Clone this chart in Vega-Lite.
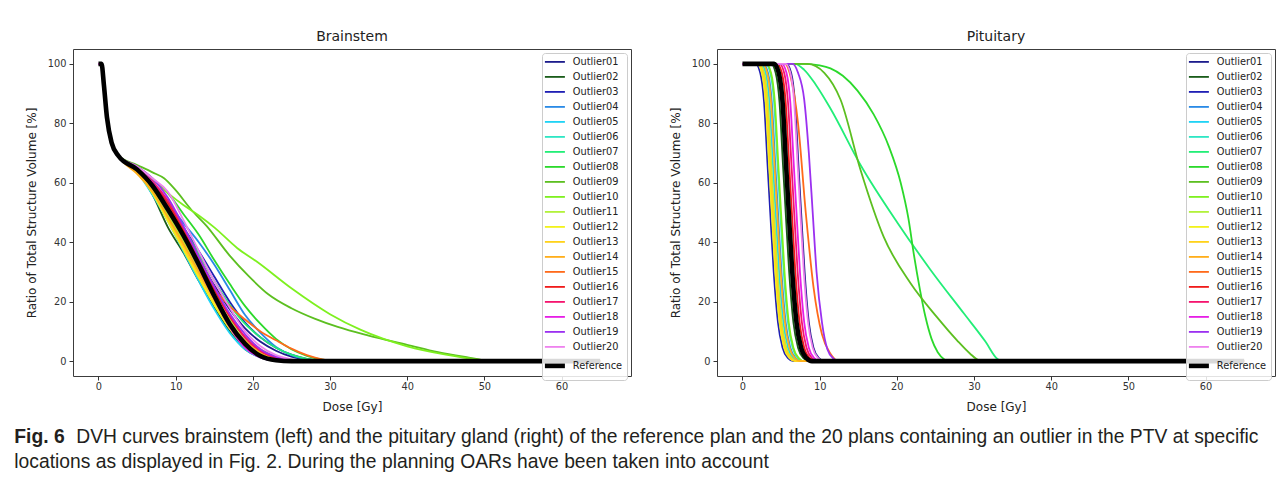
{
"$schema": "https://vega.github.io/schema/vega-lite/v6.json",
"background": "white",
"padding": {"left": 14, "top": 29, "right": 0, "bottom": 0},
"config": {
 "font": "DejaVu Sans",
 "view": {"stroke": "#3c3c3c", "strokeWidth": 1, "fill": "white"},
 "axis": {"domain": false, "grid": false, "tickColor": "#333333", "tickSize": 4, "labelFontSize": 9.8, "labelColor": "#333333", "titleFontSize": 12, "titleFontWeight": "normal", "titleColor": "#222222", "labelFont": "DejaVu Sans", "titleFont": "DejaVu Sans"},
 "axisX": {"labelPadding": 1, "titlePadding": 11},
 "axisY": {"labelPadding": 3, "titlePadding": 8.5},
 "title": {"fontSize": 14, "fontWeight": "normal", "color": "#222222", "offset": 5, "font": "DejaVu Sans", "frame": "group"},
 "legend": {"orient": "top-right", "offset": 4, "padding": 4, "fillColor": "rgba(255,255,255,0.85)", "strokeColor": "#cccccc", "cornerRadius": 3, "labelFont": "DejaVu Sans", "labelFontSize": 9.8, "labelColor": "#222222", "rowPadding": 4, "symbolOffset": 4, "labelOffset": 13}
},
"datasets": {
"bs": [
{"plan":"Outlier01","dose":0,"vol":100},{"plan":"Outlier01","dose":0.4,"vol":100},{"plan":"Outlier01","dose":0.7,"vol":93},{"plan":"Outlier01","dose":1.1,"vol":82},{"plan":"Outlier01","dose":1.7,"vol":73.5},{"plan":"Outlier01","dose":2.6,"vol":69},{"plan":"Outlier01","dose":5,"vol":65},{"plan":"Outlier01","dose":7,"vol":59.5},{"plan":"Outlier01","dose":9,"vol":52},{"plan":"Outlier01","dose":11,"vol":43.5},{"plan":"Outlier01","dose":13,"vol":34.5},{"plan":"Outlier01","dose":15,"vol":25.5},{"plan":"Outlier01","dose":17,"vol":17.5},{"plan":"Outlier01","dose":19,"vol":11},{"plan":"Outlier01","dose":21,"vol":6.5},{"plan":"Outlier01","dose":23,"vol":3.5},{"plan":"Outlier01","dose":25,"vol":1.5},{"plan":"Outlier01","dose":27,"vol":0.5},{"plan":"Outlier01","dose":29,"vol":0},{"plan":"Outlier01","dose":65,"vol":0},
{"plan":"Outlier02","dose":0,"vol":100},{"plan":"Outlier02","dose":0.4,"vol":100},{"plan":"Outlier02","dose":0.7,"vol":93},{"plan":"Outlier02","dose":1.1,"vol":82},{"plan":"Outlier02","dose":1.7,"vol":73.5},{"plan":"Outlier02","dose":2.6,"vol":69},{"plan":"Outlier02","dose":5,"vol":64},{"plan":"Outlier02","dose":7,"vol":56},{"plan":"Outlier02","dose":9,"vol":45},{"plan":"Outlier02","dose":11,"vol":36.5},{"plan":"Outlier02","dose":13,"vol":27},{"plan":"Outlier02","dose":15,"vol":18},{"plan":"Outlier02","dose":17,"vol":10},{"plan":"Outlier02","dose":19,"vol":4},{"plan":"Outlier02","dose":21,"vol":1.3},{"plan":"Outlier02","dose":23,"vol":0.2},{"plan":"Outlier02","dose":25,"vol":0},{"plan":"Outlier02","dose":65,"vol":0},
{"plan":"Outlier03","dose":0,"vol":100},{"plan":"Outlier03","dose":0.4,"vol":100},{"plan":"Outlier03","dose":0.7,"vol":93},{"plan":"Outlier03","dose":1.1,"vol":82},{"plan":"Outlier03","dose":1.7,"vol":73.5},{"plan":"Outlier03","dose":2.6,"vol":69},{"plan":"Outlier03","dose":5,"vol":65},{"plan":"Outlier03","dose":7,"vol":60},{"plan":"Outlier03","dose":9,"vol":53},{"plan":"Outlier03","dose":11,"vol":45},{"plan":"Outlier03","dose":13,"vol":37},{"plan":"Outlier03","dose":15,"vol":28.5},{"plan":"Outlier03","dose":17,"vol":20},{"plan":"Outlier03","dose":19,"vol":13},{"plan":"Outlier03","dose":21,"vol":8},{"plan":"Outlier03","dose":23,"vol":4.5},{"plan":"Outlier03","dose":25,"vol":2.2},{"plan":"Outlier03","dose":27,"vol":0.8},{"plan":"Outlier03","dose":29,"vol":0},{"plan":"Outlier03","dose":65,"vol":0},
{"plan":"Outlier04","dose":0,"vol":100},{"plan":"Outlier04","dose":0.4,"vol":100},{"plan":"Outlier04","dose":0.7,"vol":93},{"plan":"Outlier04","dose":1.1,"vol":82},{"plan":"Outlier04","dose":1.7,"vol":73.5},{"plan":"Outlier04","dose":2.6,"vol":69},{"plan":"Outlier04","dose":5,"vol":65},{"plan":"Outlier04","dose":7,"vol":60},{"plan":"Outlier04","dose":9,"vol":53.5},{"plan":"Outlier04","dose":11,"vol":46.5},{"plan":"Outlier04","dose":13,"vol":40},{"plan":"Outlier04","dose":15,"vol":32.5},{"plan":"Outlier04","dose":17,"vol":24},{"plan":"Outlier04","dose":19,"vol":15.5},{"plan":"Outlier04","dose":21,"vol":9.5},{"plan":"Outlier04","dose":23,"vol":4.8},{"plan":"Outlier04","dose":25,"vol":2},{"plan":"Outlier04","dose":27,"vol":0.6},{"plan":"Outlier04","dose":29,"vol":0},{"plan":"Outlier04","dose":65,"vol":0},
{"plan":"Outlier05","dose":0,"vol":100},{"plan":"Outlier05","dose":0.4,"vol":100},{"plan":"Outlier05","dose":0.7,"vol":93},{"plan":"Outlier05","dose":1.1,"vol":82},{"plan":"Outlier05","dose":1.7,"vol":73.5},{"plan":"Outlier05","dose":2.6,"vol":69},{"plan":"Outlier05","dose":5,"vol":63.5},{"plan":"Outlier05","dose":7,"vol":56},{"plan":"Outlier05","dose":9,"vol":47},{"plan":"Outlier05","dose":11,"vol":37},{"plan":"Outlier05","dose":13,"vol":27},{"plan":"Outlier05","dose":15,"vol":17.5},{"plan":"Outlier05","dose":17,"vol":9.5},{"plan":"Outlier05","dose":19,"vol":4},{"plan":"Outlier05","dose":21,"vol":1.2},{"plan":"Outlier05","dose":23,"vol":0.2},{"plan":"Outlier05","dose":25,"vol":0},{"plan":"Outlier05","dose":65,"vol":0},
{"plan":"Outlier06","dose":0,"vol":100},{"plan":"Outlier06","dose":0.4,"vol":100},{"plan":"Outlier06","dose":0.7,"vol":93},{"plan":"Outlier06","dose":1.1,"vol":82},{"plan":"Outlier06","dose":1.7,"vol":73.5},{"plan":"Outlier06","dose":2.6,"vol":69},{"plan":"Outlier06","dose":5,"vol":64},{"plan":"Outlier06","dose":7,"vol":57.5},{"plan":"Outlier06","dose":9,"vol":49},{"plan":"Outlier06","dose":11,"vol":40},{"plan":"Outlier06","dose":13,"vol":30.5},{"plan":"Outlier06","dose":15,"vol":21},{"plan":"Outlier06","dose":17,"vol":13},{"plan":"Outlier06","dose":19,"vol":7},{"plan":"Outlier06","dose":21,"vol":3},{"plan":"Outlier06","dose":23,"vol":1},{"plan":"Outlier06","dose":25,"vol":0.2},{"plan":"Outlier06","dose":27,"vol":0},{"plan":"Outlier06","dose":65,"vol":0},
{"plan":"Outlier07","dose":0,"vol":100},{"plan":"Outlier07","dose":0.4,"vol":100},{"plan":"Outlier07","dose":0.7,"vol":93},{"plan":"Outlier07","dose":1.1,"vol":82},{"plan":"Outlier07","dose":1.7,"vol":73.5},{"plan":"Outlier07","dose":2.6,"vol":69},{"plan":"Outlier07","dose":5,"vol":65},{"plan":"Outlier07","dose":7,"vol":60},{"plan":"Outlier07","dose":9,"vol":53},{"plan":"Outlier07","dose":11,"vol":45},{"plan":"Outlier07","dose":13,"vol":36},{"plan":"Outlier07","dose":15,"vol":27},{"plan":"Outlier07","dose":17,"vol":19},{"plan":"Outlier07","dose":19,"vol":12.5},{"plan":"Outlier07","dose":21,"vol":8},{"plan":"Outlier07","dose":23,"vol":4.5},{"plan":"Outlier07","dose":25,"vol":2.2},{"plan":"Outlier07","dose":27,"vol":0.8},{"plan":"Outlier07","dose":29,"vol":0},{"plan":"Outlier07","dose":65,"vol":0},
{"plan":"Outlier08","dose":0,"vol":100},{"plan":"Outlier08","dose":0.4,"vol":100},{"plan":"Outlier08","dose":0.7,"vol":93},{"plan":"Outlier08","dose":1.1,"vol":82},{"plan":"Outlier08","dose":1.7,"vol":73.5},{"plan":"Outlier08","dose":2.6,"vol":69},{"plan":"Outlier08","dose":5,"vol":65.5},{"plan":"Outlier08","dose":7,"vol":61.5},{"plan":"Outlier08","dose":9,"vol":56.5},{"plan":"Outlier08","dose":11,"vol":49.5},{"plan":"Outlier08","dose":13,"vol":42.5},{"plan":"Outlier08","dose":15,"vol":34},{"plan":"Outlier08","dose":17,"vol":26},{"plan":"Outlier08","dose":19,"vol":18.5},{"plan":"Outlier08","dose":21,"vol":12.5},{"plan":"Outlier08","dose":23,"vol":7.5},{"plan":"Outlier08","dose":25,"vol":4},{"plan":"Outlier08","dose":27,"vol":1.8},{"plan":"Outlier08","dose":29,"vol":0.5},{"plan":"Outlier08","dose":31,"vol":0},{"plan":"Outlier08","dose":65,"vol":0},
{"plan":"Outlier09","dose":0,"vol":100},{"plan":"Outlier09","dose":0.4,"vol":100},{"plan":"Outlier09","dose":0.7,"vol":93},{"plan":"Outlier09","dose":1.1,"vol":82},{"plan":"Outlier09","dose":1.7,"vol":73.5},{"plan":"Outlier09","dose":2.6,"vol":69},{"plan":"Outlier09","dose":5,"vol":66},{"plan":"Outlier09","dose":7,"vol":63.5},{"plan":"Outlier09","dose":8.5,"vol":61.5},{"plan":"Outlier09","dose":10,"vol":57.5},{"plan":"Outlier09","dose":12,"vol":51},{"plan":"Outlier09","dose":14,"vol":45.5},{"plan":"Outlier09","dose":17,"vol":35.5},{"plan":"Outlier09","dose":19.5,"vol":28.5},{"plan":"Outlier09","dose":22,"vol":22.5},{"plan":"Outlier09","dose":25,"vol":17.8},{"plan":"Outlier09","dose":28,"vol":14.3},{"plan":"Outlier09","dose":31,"vol":11.5},{"plan":"Outlier09","dose":35,"vol":8.6},{"plan":"Outlier09","dose":40,"vol":5.5},{"plan":"Outlier09","dose":44,"vol":3},{"plan":"Outlier09","dose":48,"vol":1.2},{"plan":"Outlier09","dose":51,"vol":0},{"plan":"Outlier09","dose":65,"vol":0},
{"plan":"Outlier10","dose":0,"vol":100},{"plan":"Outlier10","dose":0.4,"vol":100},{"plan":"Outlier10","dose":0.7,"vol":93},{"plan":"Outlier10","dose":1.1,"vol":82},{"plan":"Outlier10","dose":1.7,"vol":73.5},{"plan":"Outlier10","dose":2.6,"vol":69},{"plan":"Outlier10","dose":5,"vol":65},{"plan":"Outlier10","dose":7,"vol":61},{"plan":"Outlier10","dose":9,"vol":56.5},{"plan":"Outlier10","dose":11,"vol":52.5},{"plan":"Outlier10","dose":13,"vol":49},{"plan":"Outlier10","dose":15,"vol":45},{"plan":"Outlier10","dose":18,"vol":38},{"plan":"Outlier10","dose":20.5,"vol":33.5},{"plan":"Outlier10","dose":25,"vol":24.5},{"plan":"Outlier10","dose":30,"vol":15.8},{"plan":"Outlier10","dose":34,"vol":10.5},{"plan":"Outlier10","dose":40,"vol":5},{"plan":"Outlier10","dose":45,"vol":2.2},{"plan":"Outlier10","dose":49,"vol":0.6},{"plan":"Outlier10","dose":52,"vol":0},{"plan":"Outlier10","dose":65,"vol":0},
{"plan":"Outlier11","dose":0,"vol":100},{"plan":"Outlier11","dose":0.4,"vol":100},{"plan":"Outlier11","dose":0.7,"vol":93},{"plan":"Outlier11","dose":1.1,"vol":82},{"plan":"Outlier11","dose":1.7,"vol":73.5},{"plan":"Outlier11","dose":2.6,"vol":69},{"plan":"Outlier11","dose":5,"vol":64},{"plan":"Outlier11","dose":7,"vol":58},{"plan":"Outlier11","dose":9,"vol":49.5},{"plan":"Outlier11","dose":11,"vol":40.5},{"plan":"Outlier11","dose":13,"vol":31},{"plan":"Outlier11","dose":15,"vol":22},{"plan":"Outlier11","dose":17,"vol":14},{"plan":"Outlier11","dose":19,"vol":8},{"plan":"Outlier11","dose":21,"vol":4},{"plan":"Outlier11","dose":23,"vol":1.5},{"plan":"Outlier11","dose":25,"vol":0.5},{"plan":"Outlier11","dose":27,"vol":0},{"plan":"Outlier11","dose":65,"vol":0},
{"plan":"Outlier12","dose":0,"vol":100},{"plan":"Outlier12","dose":0.4,"vol":100},{"plan":"Outlier12","dose":0.7,"vol":93},{"plan":"Outlier12","dose":1.1,"vol":82},{"plan":"Outlier12","dose":1.7,"vol":73.5},{"plan":"Outlier12","dose":2.6,"vol":69},{"plan":"Outlier12","dose":5,"vol":63.5},{"plan":"Outlier12","dose":7,"vol":56.5},{"plan":"Outlier12","dose":9,"vol":47},{"plan":"Outlier12","dose":11,"vol":37.5},{"plan":"Outlier12","dose":13,"vol":28},{"plan":"Outlier12","dose":15,"vol":19},{"plan":"Outlier12","dose":17,"vol":11},{"plan":"Outlier12","dose":19,"vol":5},{"plan":"Outlier12","dose":21,"vol":1.8},{"plan":"Outlier12","dose":23,"vol":0.5},{"plan":"Outlier12","dose":25,"vol":0},{"plan":"Outlier12","dose":65,"vol":0},
{"plan":"Outlier13","dose":0,"vol":100},{"plan":"Outlier13","dose":0.4,"vol":100},{"plan":"Outlier13","dose":0.7,"vol":93},{"plan":"Outlier13","dose":1.1,"vol":82},{"plan":"Outlier13","dose":1.7,"vol":73.5},{"plan":"Outlier13","dose":2.6,"vol":69},{"plan":"Outlier13","dose":5,"vol":63.5},{"plan":"Outlier13","dose":7,"vol":57},{"plan":"Outlier13","dose":9,"vol":48},{"plan":"Outlier13","dose":11,"vol":38.5},{"plan":"Outlier13","dose":13,"vol":29},{"plan":"Outlier13","dose":15,"vol":20},{"plan":"Outlier13","dose":17,"vol":12},{"plan":"Outlier13","dose":19,"vol":6},{"plan":"Outlier13","dose":21,"vol":2.5},{"plan":"Outlier13","dose":23,"vol":0.8},{"plan":"Outlier13","dose":25,"vol":0},{"plan":"Outlier13","dose":65,"vol":0},
{"plan":"Outlier14","dose":0,"vol":100},{"plan":"Outlier14","dose":0.4,"vol":100},{"plan":"Outlier14","dose":0.7,"vol":93},{"plan":"Outlier14","dose":1.1,"vol":82},{"plan":"Outlier14","dose":1.7,"vol":73.5},{"plan":"Outlier14","dose":2.6,"vol":69},{"plan":"Outlier14","dose":5,"vol":63},{"plan":"Outlier14","dose":7,"vol":57},{"plan":"Outlier14","dose":9,"vol":48.5},{"plan":"Outlier14","dose":11,"vol":39.5},{"plan":"Outlier14","dose":13,"vol":30},{"plan":"Outlier14","dose":15,"vol":21},{"plan":"Outlier14","dose":17,"vol":13},{"plan":"Outlier14","dose":19,"vol":7},{"plan":"Outlier14","dose":21,"vol":3},{"plan":"Outlier14","dose":23,"vol":1},{"plan":"Outlier14","dose":25,"vol":0.2},{"plan":"Outlier14","dose":27,"vol":0},{"plan":"Outlier14","dose":65,"vol":0},
{"plan":"Outlier15","dose":0,"vol":100},{"plan":"Outlier15","dose":0.4,"vol":100},{"plan":"Outlier15","dose":0.7,"vol":93},{"plan":"Outlier15","dose":1.1,"vol":82},{"plan":"Outlier15","dose":1.7,"vol":73.5},{"plan":"Outlier15","dose":2.6,"vol":69},{"plan":"Outlier15","dose":5,"vol":64},{"plan":"Outlier15","dose":7,"vol":58.5},{"plan":"Outlier15","dose":9,"vol":51},{"plan":"Outlier15","dose":11,"vol":42.5},{"plan":"Outlier15","dose":13,"vol":33},{"plan":"Outlier15","dose":15,"vol":24.5},{"plan":"Outlier15","dose":17,"vol":18.5},{"plan":"Outlier15","dose":19,"vol":14},{"plan":"Outlier15","dose":21,"vol":10},{"plan":"Outlier15","dose":23,"vol":7},{"plan":"Outlier15","dose":25,"vol":4.2},{"plan":"Outlier15","dose":27,"vol":2},{"plan":"Outlier15","dose":29,"vol":0.6},{"plan":"Outlier15","dose":31,"vol":0},{"plan":"Outlier15","dose":65,"vol":0},
{"plan":"Outlier16","dose":0,"vol":100},{"plan":"Outlier16","dose":0.4,"vol":100},{"plan":"Outlier16","dose":0.7,"vol":93},{"plan":"Outlier16","dose":1.1,"vol":82},{"plan":"Outlier16","dose":1.7,"vol":73.5},{"plan":"Outlier16","dose":2.6,"vol":69},{"plan":"Outlier16","dose":5,"vol":65},{"plan":"Outlier16","dose":7,"vol":60},{"plan":"Outlier16","dose":9,"vol":53},{"plan":"Outlier16","dose":11,"vol":44},{"plan":"Outlier16","dose":13,"vol":34},{"plan":"Outlier16","dose":15,"vol":24},{"plan":"Outlier16","dose":17,"vol":15},{"plan":"Outlier16","dose":19,"vol":8},{"plan":"Outlier16","dose":21,"vol":3.5},{"plan":"Outlier16","dose":23,"vol":1.2},{"plan":"Outlier16","dose":25,"vol":0.3},{"plan":"Outlier16","dose":27,"vol":0},{"plan":"Outlier16","dose":65,"vol":0},
{"plan":"Outlier17","dose":0,"vol":100},{"plan":"Outlier17","dose":0.4,"vol":100},{"plan":"Outlier17","dose":0.7,"vol":93},{"plan":"Outlier17","dose":1.1,"vol":82},{"plan":"Outlier17","dose":1.7,"vol":73.5},{"plan":"Outlier17","dose":2.6,"vol":69},{"plan":"Outlier17","dose":5,"vol":65},{"plan":"Outlier17","dose":7,"vol":60.5},{"plan":"Outlier17","dose":9,"vol":54},{"plan":"Outlier17","dose":11,"vol":45},{"plan":"Outlier17","dose":13,"vol":35},{"plan":"Outlier17","dose":15,"vol":25},{"plan":"Outlier17","dose":17,"vol":15.5},{"plan":"Outlier17","dose":19,"vol":8},{"plan":"Outlier17","dose":21,"vol":3.5},{"plan":"Outlier17","dose":23,"vol":1.2},{"plan":"Outlier17","dose":25,"vol":0.3},{"plan":"Outlier17","dose":27,"vol":0},{"plan":"Outlier17","dose":65,"vol":0},
{"plan":"Outlier18","dose":0,"vol":100},{"plan":"Outlier18","dose":0.4,"vol":100},{"plan":"Outlier18","dose":0.7,"vol":93},{"plan":"Outlier18","dose":1.1,"vol":82},{"plan":"Outlier18","dose":1.7,"vol":73.5},{"plan":"Outlier18","dose":2.6,"vol":69},{"plan":"Outlier18","dose":5,"vol":65},{"plan":"Outlier18","dose":7,"vol":60},{"plan":"Outlier18","dose":9,"vol":51.5},{"plan":"Outlier18","dose":11,"vol":42},{"plan":"Outlier18","dose":13,"vol":31.5},{"plan":"Outlier18","dose":15,"vol":21},{"plan":"Outlier18","dose":17,"vol":11.5},{"plan":"Outlier18","dose":19,"vol":4.5},{"plan":"Outlier18","dose":21,"vol":1.2},{"plan":"Outlier18","dose":23,"vol":0.2},{"plan":"Outlier18","dose":25,"vol":0},{"plan":"Outlier18","dose":65,"vol":0},
{"plan":"Outlier19","dose":0,"vol":100},{"plan":"Outlier19","dose":0.4,"vol":100},{"plan":"Outlier19","dose":0.7,"vol":93},{"plan":"Outlier19","dose":1.1,"vol":82},{"plan":"Outlier19","dose":1.7,"vol":73.5},{"plan":"Outlier19","dose":2.6,"vol":69},{"plan":"Outlier19","dose":5,"vol":65.5},{"plan":"Outlier19","dose":7,"vol":61.5},{"plan":"Outlier19","dose":9,"vol":55},{"plan":"Outlier19","dose":11,"vol":45.5},{"plan":"Outlier19","dose":13,"vol":35},{"plan":"Outlier19","dose":15,"vol":25},{"plan":"Outlier19","dose":17,"vol":16},{"plan":"Outlier19","dose":19,"vol":9},{"plan":"Outlier19","dose":21,"vol":4},{"plan":"Outlier19","dose":23,"vol":1.5},{"plan":"Outlier19","dose":25,"vol":0.4},{"plan":"Outlier19","dose":27,"vol":0},{"plan":"Outlier19","dose":65,"vol":0},
{"plan":"Outlier20","dose":0,"vol":100},{"plan":"Outlier20","dose":0.4,"vol":100},{"plan":"Outlier20","dose":0.7,"vol":93},{"plan":"Outlier20","dose":1.1,"vol":82},{"plan":"Outlier20","dose":1.7,"vol":73.5},{"plan":"Outlier20","dose":2.6,"vol":69},{"plan":"Outlier20","dose":5,"vol":65.5},{"plan":"Outlier20","dose":7,"vol":61.5},{"plan":"Outlier20","dose":9,"vol":57},{"plan":"Outlier20","dose":11,"vol":47.5},{"plan":"Outlier20","dose":13,"vol":37},{"plan":"Outlier20","dose":15,"vol":27},{"plan":"Outlier20","dose":17,"vol":18},{"plan":"Outlier20","dose":19,"vol":10},{"plan":"Outlier20","dose":21,"vol":5},{"plan":"Outlier20","dose":23,"vol":2},{"plan":"Outlier20","dose":25,"vol":0.6},{"plan":"Outlier20","dose":27,"vol":0},{"plan":"Outlier20","dose":65,"vol":0},
{"plan":"Reference","dose":0,"vol":100},{"plan":"Reference","dose":0.4,"vol":100},{"plan":"Reference","dose":0.7,"vol":93},{"plan":"Reference","dose":1.1,"vol":82},{"plan":"Reference","dose":1.7,"vol":73.5},{"plan":"Reference","dose":2.6,"vol":69},{"plan":"Reference","dose":5,"vol":64.5},{"plan":"Reference","dose":7,"vol":59},{"plan":"Reference","dose":9,"vol":51},{"plan":"Reference","dose":11,"vol":42.3},{"plan":"Reference","dose":13,"vol":32.5},{"plan":"Reference","dose":15,"vol":22},{"plan":"Reference","dose":17,"vol":12.5},{"plan":"Reference","dose":19,"vol":5.8},{"plan":"Reference","dose":21,"vol":1.7},{"plan":"Reference","dose":23,"vol":0.3},{"plan":"Reference","dose":25,"vol":0},{"plan":"Reference","dose":65,"vol":0}
],
"pit": [
{"plan":"Outlier01","dose":0,"vol":100},{"plan":"Outlier01","dose":5.7,"vol":100},{"plan":"Outlier01","dose":6.3,"vol":97},{"plan":"Outlier01","dose":6.8,"vol":87},{"plan":"Outlier01","dose":7.25,"vol":66},{"plan":"Outlier01","dose":7.6,"vol":50},{"plan":"Outlier01","dose":8.05,"vol":30},{"plan":"Outlier01","dose":8.6,"vol":13},{"plan":"Outlier01","dose":9.2,"vol":4.5},{"plan":"Outlier01","dose":9.9,"vol":1},{"plan":"Outlier01","dose":10.6,"vol":0},{"plan":"Outlier01","dose":65,"vol":0},
{"plan":"Outlier02","dose":0,"vol":100},{"plan":"Outlier02","dose":3.7,"vol":100},{"plan":"Outlier02","dose":4.3,"vol":97},{"plan":"Outlier02","dose":4.8,"vol":87},{"plan":"Outlier02","dose":5.25,"vol":66},{"plan":"Outlier02","dose":5.6,"vol":50},{"plan":"Outlier02","dose":6.05,"vol":30},{"plan":"Outlier02","dose":6.6,"vol":13},{"plan":"Outlier02","dose":7.2,"vol":4.5},{"plan":"Outlier02","dose":7.9,"vol":1},{"plan":"Outlier02","dose":8.6,"vol":0},{"plan":"Outlier02","dose":65,"vol":0},
{"plan":"Outlier03","dose":0,"vol":100},{"plan":"Outlier03","dose":1.7,"vol":100},{"plan":"Outlier03","dose":2.3,"vol":97},{"plan":"Outlier03","dose":2.8,"vol":87},{"plan":"Outlier03","dose":3.25,"vol":66},{"plan":"Outlier03","dose":3.6,"vol":50},{"plan":"Outlier03","dose":4.05,"vol":30},{"plan":"Outlier03","dose":4.6,"vol":13},{"plan":"Outlier03","dose":5.2,"vol":4.5},{"plan":"Outlier03","dose":5.9,"vol":1},{"plan":"Outlier03","dose":6.6,"vol":0},{"plan":"Outlier03","dose":65,"vol":0},
{"plan":"Outlier04","dose":0,"vol":100},{"plan":"Outlier04","dose":2.7,"vol":100},{"plan":"Outlier04","dose":3.3,"vol":97},{"plan":"Outlier04","dose":3.8,"vol":87},{"plan":"Outlier04","dose":4.25,"vol":66},{"plan":"Outlier04","dose":4.6,"vol":50},{"plan":"Outlier04","dose":5.05,"vol":30},{"plan":"Outlier04","dose":5.6,"vol":13},{"plan":"Outlier04","dose":6.2,"vol":4.5},{"plan":"Outlier04","dose":6.9,"vol":1},{"plan":"Outlier04","dose":7.6,"vol":0},{"plan":"Outlier04","dose":65,"vol":0},
{"plan":"Outlier05","dose":0,"vol":100},{"plan":"Outlier05","dose":2.4,"vol":100},{"plan":"Outlier05","dose":3.0,"vol":97},{"plan":"Outlier05","dose":3.5,"vol":87},{"plan":"Outlier05","dose":3.95,"vol":66},{"plan":"Outlier05","dose":4.3,"vol":50},{"plan":"Outlier05","dose":4.75,"vol":30},{"plan":"Outlier05","dose":5.3,"vol":13},{"plan":"Outlier05","dose":5.9,"vol":4.5},{"plan":"Outlier05","dose":6.6,"vol":1},{"plan":"Outlier05","dose":7.3,"vol":0},{"plan":"Outlier05","dose":65,"vol":0},
{"plan":"Outlier06","dose":0,"vol":100},{"plan":"Outlier06","dose":3.0,"vol":100},{"plan":"Outlier06","dose":3.6,"vol":97},{"plan":"Outlier06","dose":4.1,"vol":87},{"plan":"Outlier06","dose":4.55,"vol":66},{"plan":"Outlier06","dose":4.9,"vol":50},{"plan":"Outlier06","dose":5.35,"vol":30},{"plan":"Outlier06","dose":5.9,"vol":13},{"plan":"Outlier06","dose":6.5,"vol":4.5},{"plan":"Outlier06","dose":7.2,"vol":1},{"plan":"Outlier06","dose":7.9,"vol":0},{"plan":"Outlier06","dose":65,"vol":0},
{"plan":"Outlier07","dose":0,"vol":100},{"plan":"Outlier07","dose":6.8,"vol":100},{"plan":"Outlier07","dose":8,"vol":98},{"plan":"Outlier07","dose":9.5,"vol":93},{"plan":"Outlier07","dose":11.4,"vol":85},{"plan":"Outlier07","dose":15.3,"vol":66},{"plan":"Outlier07","dose":20.1,"vol":46.5},{"plan":"Outlier07","dose":24.4,"vol":30.6},{"plan":"Outlier07","dose":28.7,"vol":16},{"plan":"Outlier07","dose":31.5,"vol":6.5},{"plan":"Outlier07","dose":33,"vol":0.8},{"plan":"Outlier07","dose":33.5,"vol":0},{"plan":"Outlier07","dose":65,"vol":0},
{"plan":"Outlier08","dose":0,"vol":100},{"plan":"Outlier08","dose":8,"vol":100},{"plan":"Outlier08","dose":10,"vol":99.5},{"plan":"Outlier08","dose":11.4,"vol":98.5},{"plan":"Outlier08","dose":13,"vol":96},{"plan":"Outlier08","dose":14.9,"vol":91},{"plan":"Outlier08","dose":17,"vol":83},{"plan":"Outlier08","dose":19,"vol":72},{"plan":"Outlier08","dose":20.5,"vol":60},{"plan":"Outlier08","dose":21.5,"vol":48},{"plan":"Outlier08","dose":22.2,"vol":36},{"plan":"Outlier08","dose":23,"vol":24},{"plan":"Outlier08","dose":23.7,"vol":15},{"plan":"Outlier08","dose":24.5,"vol":7.5},{"plan":"Outlier08","dose":25.3,"vol":3},{"plan":"Outlier08","dose":26.2,"vol":0.5},{"plan":"Outlier08","dose":26.8,"vol":0},{"plan":"Outlier08","dose":65,"vol":0},
{"plan":"Outlier09","dose":0,"vol":100},{"plan":"Outlier09","dose":8.4,"vol":100},{"plan":"Outlier09","dose":10.6,"vol":97},{"plan":"Outlier09","dose":12.7,"vol":88},{"plan":"Outlier09","dose":15.3,"vol":64.3},{"plan":"Outlier09","dose":18.3,"vol":41.8},{"plan":"Outlier09","dose":21.8,"vol":26.1},{"plan":"Outlier09","dose":25.2,"vol":14.8},{"plan":"Outlier09","dose":27.8,"vol":7},{"plan":"Outlier09","dose":29.5,"vol":2.5},{"plan":"Outlier09","dose":30.6,"vol":0.3},{"plan":"Outlier09","dose":31,"vol":0},{"plan":"Outlier09","dose":65,"vol":0},
{"plan":"Outlier10","dose":0,"vol":100},{"plan":"Outlier10","dose":3.1,"vol":100},{"plan":"Outlier10","dose":3.7,"vol":97},{"plan":"Outlier10","dose":4.2,"vol":87},{"plan":"Outlier10","dose":4.65,"vol":66},{"plan":"Outlier10","dose":5.0,"vol":50},{"plan":"Outlier10","dose":5.45,"vol":30},{"plan":"Outlier10","dose":6.0,"vol":13},{"plan":"Outlier10","dose":6.6,"vol":4.5},{"plan":"Outlier10","dose":7.3,"vol":1},{"plan":"Outlier10","dose":8.0,"vol":0},{"plan":"Outlier10","dose":65,"vol":0},
{"plan":"Outlier11","dose":0,"vol":100},{"plan":"Outlier11","dose":2.2,"vol":100},{"plan":"Outlier11","dose":2.8,"vol":97},{"plan":"Outlier11","dose":3.3,"vol":87},{"plan":"Outlier11","dose":3.75,"vol":66},{"plan":"Outlier11","dose":4.1,"vol":50},{"plan":"Outlier11","dose":4.55,"vol":30},{"plan":"Outlier11","dose":5.1,"vol":13},{"plan":"Outlier11","dose":5.7,"vol":4.5},{"plan":"Outlier11","dose":6.4,"vol":1},{"plan":"Outlier11","dose":7.1,"vol":0},{"plan":"Outlier11","dose":65,"vol":0},
{"plan":"Outlier12","dose":0,"vol":100},{"plan":"Outlier12","dose":1.9,"vol":100},{"plan":"Outlier12","dose":2.5,"vol":97},{"plan":"Outlier12","dose":3.0,"vol":87},{"plan":"Outlier12","dose":3.45,"vol":66},{"plan":"Outlier12","dose":3.8,"vol":50},{"plan":"Outlier12","dose":4.25,"vol":30},{"plan":"Outlier12","dose":4.8,"vol":13},{"plan":"Outlier12","dose":5.4,"vol":4.5},{"plan":"Outlier12","dose":6.1,"vol":1},{"plan":"Outlier12","dose":6.8,"vol":0},{"plan":"Outlier12","dose":65,"vol":0},
{"plan":"Outlier13","dose":0,"vol":100},{"plan":"Outlier13","dose":2.05,"vol":100},{"plan":"Outlier13","dose":2.65,"vol":97},{"plan":"Outlier13","dose":3.15,"vol":87},{"plan":"Outlier13","dose":3.6,"vol":66},{"plan":"Outlier13","dose":3.95,"vol":50},{"plan":"Outlier13","dose":4.4,"vol":30},{"plan":"Outlier13","dose":4.95,"vol":13},{"plan":"Outlier13","dose":5.55,"vol":4.5},{"plan":"Outlier13","dose":6.25,"vol":1},{"plan":"Outlier13","dose":6.95,"vol":0},{"plan":"Outlier13","dose":65,"vol":0},
{"plan":"Outlier14","dose":0,"vol":100},{"plan":"Outlier14","dose":2.6,"vol":100},{"plan":"Outlier14","dose":3.2,"vol":97},{"plan":"Outlier14","dose":3.7,"vol":87},{"plan":"Outlier14","dose":4.15,"vol":66},{"plan":"Outlier14","dose":4.5,"vol":50},{"plan":"Outlier14","dose":4.95,"vol":30},{"plan":"Outlier14","dose":5.5,"vol":13},{"plan":"Outlier14","dose":6.1,"vol":4.5},{"plan":"Outlier14","dose":6.8,"vol":1},{"plan":"Outlier14","dose":7.5,"vol":0},{"plan":"Outlier14","dose":65,"vol":0},
{"plan":"Outlier15","dose":0,"vol":100},{"plan":"Outlier15","dose":5.5,"vol":100},{"plan":"Outlier15","dose":6.3,"vol":95},{"plan":"Outlier15","dose":7.2,"vol":80},{"plan":"Outlier15","dose":8.2,"vol":50},{"plan":"Outlier15","dose":9.2,"vol":25},{"plan":"Outlier15","dose":10.3,"vol":9},{"plan":"Outlier15","dose":11.4,"vol":2.5},{"plan":"Outlier15","dose":12.5,"vol":0},{"plan":"Outlier15","dose":65,"vol":0},
{"plan":"Outlier16","dose":0,"vol":100},{"plan":"Outlier16","dose":4.5,"vol":100},{"plan":"Outlier16","dose":5.1,"vol":97},{"plan":"Outlier16","dose":5.6,"vol":87},{"plan":"Outlier16","dose":6.05,"vol":66},{"plan":"Outlier16","dose":6.4,"vol":50},{"plan":"Outlier16","dose":6.85,"vol":30},{"plan":"Outlier16","dose":7.4,"vol":13},{"plan":"Outlier16","dose":8.0,"vol":4.5},{"plan":"Outlier16","dose":8.7,"vol":1},{"plan":"Outlier16","dose":9.4,"vol":0},{"plan":"Outlier16","dose":65,"vol":0},
{"plan":"Outlier17","dose":0,"vol":100},{"plan":"Outlier17","dose":4.8,"vol":100},{"plan":"Outlier17","dose":5.4,"vol":97},{"plan":"Outlier17","dose":5.9,"vol":87},{"plan":"Outlier17","dose":6.35,"vol":66},{"plan":"Outlier17","dose":6.7,"vol":50},{"plan":"Outlier17","dose":7.15,"vol":30},{"plan":"Outlier17","dose":7.7,"vol":13},{"plan":"Outlier17","dose":8.3,"vol":4.5},{"plan":"Outlier17","dose":9.0,"vol":1},{"plan":"Outlier17","dose":9.7,"vol":0},{"plan":"Outlier17","dose":65,"vol":0},
{"plan":"Outlier18","dose":0,"vol":100},{"plan":"Outlier18","dose":5.1,"vol":100},{"plan":"Outlier18","dose":5.7,"vol":97},{"plan":"Outlier18","dose":6.2,"vol":87},{"plan":"Outlier18","dose":6.65,"vol":66},{"plan":"Outlier18","dose":7.0,"vol":50},{"plan":"Outlier18","dose":7.45,"vol":30},{"plan":"Outlier18","dose":8.0,"vol":13},{"plan":"Outlier18","dose":8.6,"vol":4.5},{"plan":"Outlier18","dose":9.3,"vol":1},{"plan":"Outlier18","dose":10.0,"vol":0},{"plan":"Outlier18","dose":65,"vol":0},
{"plan":"Outlier19","dose":0,"vol":100},{"plan":"Outlier19","dose":6.5,"vol":100},{"plan":"Outlier19","dose":7.2,"vol":97},{"plan":"Outlier19","dose":8,"vol":88},{"plan":"Outlier19","dose":8.6,"vol":70},{"plan":"Outlier19","dose":9.1,"vol":50},{"plan":"Outlier19","dose":9.6,"vol":30},{"plan":"Outlier19","dose":10.3,"vol":13},{"plan":"Outlier19","dose":11,"vol":4},{"plan":"Outlier19","dose":11.8,"vol":0.8},{"plan":"Outlier19","dose":12.3,"vol":0},{"plan":"Outlier19","dose":65,"vol":0},
{"plan":"Outlier20","dose":0,"vol":100},{"plan":"Outlier20","dose":5.6,"vol":100},{"plan":"Outlier20","dose":6.2,"vol":97},{"plan":"Outlier20","dose":6.7,"vol":87},{"plan":"Outlier20","dose":7.15,"vol":66},{"plan":"Outlier20","dose":7.5,"vol":50},{"plan":"Outlier20","dose":7.95,"vol":30},{"plan":"Outlier20","dose":8.5,"vol":13},{"plan":"Outlier20","dose":9.1,"vol":4.5},{"plan":"Outlier20","dose":9.8,"vol":1},{"plan":"Outlier20","dose":10.5,"vol":0},{"plan":"Outlier20","dose":65,"vol":0},
{"plan":"Reference","dose":0,"vol":100},{"plan":"Reference","dose":4.1,"vol":100},{"plan":"Reference","dose":4.7,"vol":97},{"plan":"Reference","dose":5.2,"vol":87},{"plan":"Reference","dose":5.65,"vol":66},{"plan":"Reference","dose":6.0,"vol":50},{"plan":"Reference","dose":6.45,"vol":30},{"plan":"Reference","dose":7.0,"vol":13},{"plan":"Reference","dose":7.6,"vol":4.5},{"plan":"Reference","dose":8.3,"vol":1},{"plan":"Reference","dose":9.0,"vol":0},{"plan":"Reference","dose":65,"vol":0}
]
},
"title": {
 "text": "locations as displayed in Fig. 2. During the planning OARs have been taken into account",
 "orient": "bottom", "anchor": "start", "frame": "bounds", "font": "Liberation Sans", "fontSize": 19.3, "fontWeight": "normal", "color": "#231f20", "offset": 5, "dx": 0
},
"vconcat": [
 {
  "title": {"text": "DVH curves brainstem (left) and the pituitary gland (right) of the reference plan and the 20 plans containing an outlier in the PTV at specific", "orient": "bottom", "anchor": "start", "frame": "bounds", "font": "Liberation Sans", "fontSize": 19.3, "fontWeight": "normal", "color": "#231f20", "offset": 0, "dx": 62, "dy": -19.3},
  "vconcat": [
   {
    "title": {"text": "Fig. 6", "orient": "bottom", "anchor": "start", "frame": "bounds", "font": "Liberation Sans", "fontSize": 19.3, "fontWeight": "bold", "color": "#231f20", "offset": 15, "dx": -11},
    "spacing": 37,
    "resolve": {"scale": {"color": "independent"}, "legend": {"color": "independent"}},
    "hconcat": [
     {
      "title": "Brainstem",
      "width": 558, "height": 327,
      "data": {"name": "bs"},
      "encoding": {
       "x": {"field": "dose", "type": "quantitative", "scale": {"domain": [-3.3, 69], "nice": false, "zero": false}, "axis": {"values": [0, 10, 20, 30, 40, 50, 60], "title": "Dose [Gy]"}},
       "y": {"field": "vol", "type": "quantitative", "scale": {"domain": [-5, 105], "nice": false, "zero": false}, "axis": {"values": [0, 20, 40, 60, 80, 100], "title": "Ratio of Total Structure Volume [%]"}},
       "color": {"field": "plan", "type": "nominal", "scale": {"domain": ["Outlier01","Outlier02","Outlier03","Outlier04","Outlier05","Outlier06","Outlier07","Outlier08","Outlier09","Outlier10","Outlier11","Outlier12","Outlier13","Outlier14","Outlier15","Outlier16","Outlier17","Outlier18","Outlier19","Outlier20","Reference"], "range": ["#1c1c8c","#1a5c1a","#1f1fb4","#2a8ae6","#1fd3f5","#2ee6c4","#22ee77","#2bd92b","#5cbf20","#7ef01f","#b2f23a","#f2f21b","#ffd21a","#ffae1a","#ff6a1a","#f01a1a","#f5146e","#e61ee6","#9b30f0","#ee82ee","#000000"]}, "legend": {"title": null, "symbolType": "M-2.0,0H2.0", "symbolSize": 100, "encode": {"symbols": {"update": {"strokeWidth": {"signal": "datum.value === 'Reference' ? 4.6 : 1.8"}}}}}}
      },
      "layer": [
       {"transform": [{"filter": "datum.plan !== 'Reference'"}], "mark": {"type": "line", "interpolate": "monotone", "strokeWidth": 1.8}},
       {"transform": [{"filter": "datum.plan === 'Reference'"}], "mark": {"type": "line", "interpolate": "monotone", "strokeWidth": 4.6}}
      ]
     },
     {
      "title": "Pituitary",
      "width": 558, "height": 327,
      "data": {"name": "pit"},
      "encoding": {
       "x": {"field": "dose", "type": "quantitative", "scale": {"domain": [-3.3, 69], "nice": false, "zero": false}, "axis": {"values": [0, 10, 20, 30, 40, 50, 60], "title": "Dose [Gy]"}},
       "y": {"field": "vol", "type": "quantitative", "scale": {"domain": [-5, 105], "nice": false, "zero": false}, "axis": {"values": [0, 20, 40, 60, 80, 100], "title": "Ratio of Total Structure Volume [%]"}},
       "color": {"field": "plan", "type": "nominal", "scale": {"domain": ["Outlier01","Outlier02","Outlier03","Outlier04","Outlier05","Outlier06","Outlier07","Outlier08","Outlier09","Outlier10","Outlier11","Outlier12","Outlier13","Outlier14","Outlier15","Outlier16","Outlier17","Outlier18","Outlier19","Outlier20","Reference"], "range": ["#1c1c8c","#1a5c1a","#1f1fb4","#2a8ae6","#1fd3f5","#2ee6c4","#22ee77","#2bd92b","#5cbf20","#7ef01f","#b2f23a","#f2f21b","#ffd21a","#ffae1a","#ff6a1a","#f01a1a","#f5146e","#e61ee6","#9b30f0","#ee82ee","#000000"]}, "legend": {"title": null, "symbolType": "M-2.0,0H2.0", "symbolSize": 100, "encode": {"symbols": {"update": {"strokeWidth": {"signal": "datum.value === 'Reference' ? 4.6 : 1.8"}}}}}}
      },
      "layer": [
       {"transform": [{"filter": "datum.plan !== 'Reference'"}], "mark": {"type": "line", "interpolate": "monotone", "strokeWidth": 1.8}},
       {"transform": [{"filter": "datum.plan === 'Reference'"}], "mark": {"type": "line", "interpolate": "monotone", "strokeWidth": 4.6}}
      ]
     }
    ]
   }
  ]
 }
]
}
